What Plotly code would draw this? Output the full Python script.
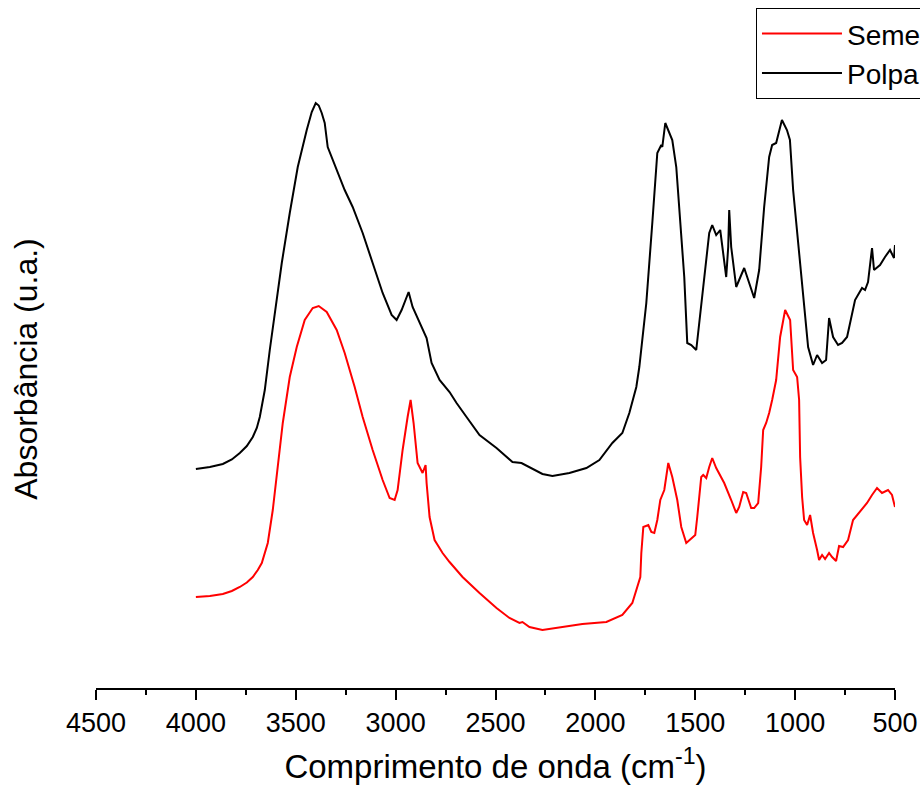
import plotly.graph_objects as go

# Polpa (black) spectrum
polpa_wn = [4000, 3930, 3865, 3820, 3780, 3745, 3715, 3695, 3680, 3655, 3630, 3595, 3570, 3530,
            3490, 3445, 3420, 3400, 3385, 3370, 3355, 3340, 3315, 3255, 3215, 3165, 3115, 3065,
            3020, 2995, 2970, 2935, 2915, 2880, 2845, 2820, 2780, 2730, 2695, 2645, 2580, 2495,
            2415, 2370, 2330, 2265, 2215, 2130, 2045, 1980, 1915, 1865, 1830, 1795, 1780, 1745,
            1715, 1690, 1670, 1665, 1650, 1630, 1615, 1595, 1580, 1555, 1540, 1520, 1495, 1480,
            1455, 1430, 1415, 1395, 1375, 1360, 1345, 1335, 1330, 1320, 1295, 1255, 1230, 1205,
            1180, 1155, 1130, 1115, 1095, 1066, 1041, 1026, 1010, 985, 960, 935, 910, 890, 865,
            845, 830, 810, 785, 765, 740, 700, 665, 650, 635, 615, 605, 575, 550, 525, 505, 500]
polpa_abs = [0.438, 0.442, 0.448, 0.457, 0.470, 0.484, 0.502, 0.520, 0.542, 0.596, 0.676, 0.782,
             0.850, 0.950, 1.042, 1.116, 1.152, 1.170, 1.165, 1.150, 1.130, 1.082, 1.056, 0.996,
             0.962, 0.910, 0.850, 0.790, 0.746, 0.736, 0.756, 0.792, 0.762, 0.730, 0.700, 0.650,
             0.616, 0.592, 0.570, 0.542, 0.506, 0.480, 0.452, 0.450, 0.442, 0.428, 0.424, 0.430,
             0.440, 0.456, 0.490, 0.510, 0.550, 0.602, 0.642, 0.770, 0.930, 1.070, 1.086, 1.082,
             1.130, 1.112, 1.096, 1.042, 0.956, 0.822, 0.690, 0.686, 0.676, 0.730, 0.822, 0.910,
             0.926, 0.906, 0.916, 0.870, 0.822, 0.882, 0.956, 0.882, 0.802, 0.840, 0.810, 0.780,
             0.836, 0.962, 1.062, 1.086, 1.090, 1.136, 1.116, 1.096, 0.996, 0.896, 0.782, 0.682,
             0.646, 0.666, 0.650, 0.656, 0.740, 0.702, 0.686, 0.690, 0.702, 0.776, 0.800, 0.796,
             0.812, 0.880, 0.836, 0.846, 0.862, 0.876, 0.860, 0.886]

# Semente (red) spectrum
semente_wn = [4000, 3930, 3865, 3820, 3780, 3745, 3715, 3690, 3670, 3640, 3615, 3590, 3565, 3530,
              3495, 3455, 3415, 3385, 3345, 3295, 3255, 3205, 3165, 3115, 3065, 3030, 3005, 2990,
              2965, 2940, 2925, 2910, 2890, 2865, 2850, 2845, 2830, 2805, 2765, 2730, 2665, 2580,
              2495, 2430, 2380, 2365, 2330, 2265, 2165, 2065, 1945, 1865, 1815, 1790, 1775, 1770,
              1760, 1735, 1720, 1705, 1690, 1675, 1655, 1635, 1615, 1590, 1570, 1545, 1520, 1500,
              1490, 1470, 1460, 1445, 1430, 1415, 1395, 1385, 1355, 1320, 1295, 1280, 1260, 1245,
              1220, 1205, 1185, 1170, 1160, 1145, 1130, 1115, 1095, 1075, 1050, 1025, 1010, 990,
              980, 975, 965, 955, 940, 925, 910, 890, 880, 865, 850, 830, 815, 795, 780, 760, 735,
              710, 675, 640, 615, 590, 565, 535, 515, 500]
semente_abs = [0.182, 0.184, 0.188, 0.194, 0.202, 0.211, 0.222, 0.236, 0.250, 0.290, 0.356, 0.450,
               0.530, 0.622, 0.682, 0.736, 0.760, 0.764, 0.752, 0.716, 0.670, 0.602, 0.542, 0.476,
               0.416, 0.380, 0.376, 0.396, 0.476, 0.542, 0.576, 0.530, 0.450, 0.430, 0.446, 0.410,
               0.342, 0.296, 0.270, 0.252, 0.222, 0.190, 0.160, 0.140, 0.130, 0.132, 0.122, 0.116,
               0.122, 0.128, 0.132, 0.146, 0.170, 0.202, 0.222, 0.270, 0.322, 0.326, 0.312, 0.310,
               0.336, 0.376, 0.396, 0.450, 0.422, 0.376, 0.322, 0.290, 0.300, 0.306, 0.342, 0.422,
               0.426, 0.420, 0.442, 0.460, 0.440, 0.432, 0.410, 0.376, 0.350, 0.362, 0.392, 0.390,
               0.360, 0.360, 0.370, 0.442, 0.516, 0.530, 0.550, 0.576, 0.616, 0.702, 0.756, 0.736,
               0.636, 0.622, 0.576, 0.462, 0.382, 0.336, 0.326, 0.346, 0.310, 0.276, 0.256, 0.266,
               0.258, 0.270, 0.262, 0.254, 0.284, 0.282, 0.296, 0.336, 0.352, 0.370, 0.386, 0.400,
               0.390, 0.396, 0.386, 0.362]

x_ticks = [4500, 4000, 3500, 3000, 2500, 2000, 1500, 1000, 500]

FONT = "Arial, Liberation Sans, sans-serif"

fig = go.Figure()
fig.add_trace(go.Scatter(x=semente_wn, y=semente_abs, mode="lines", name="Semente",
                         line=dict(color="#FF0000", width=2)))
fig.add_trace(go.Scatter(x=polpa_wn, y=polpa_abs, mode="lines", name="Polpa",
                         line=dict(color="#000000", width=2)))

fig.update_layout(
    width=1000, height=785,
    margin=dict(l=96, r=105, t=50, b=97, autoexpand=False),
    paper_bgcolor="white", plot_bgcolor="white",
    font=dict(family=FONT, color="black"),
    showlegend=True,
    legend=dict(x=0.826, y=1.066, xanchor="left", yanchor="top",
                bordercolor="black", borderwidth=1, bgcolor="white",
                font=dict(size=28, family=FONT), itemwidth=80, tracegroupgap=0),
    xaxis=dict(range=[4500, 500], tickvals=x_ticks, ticktext=[str(v) for v in x_ticks],
               showgrid=False, zeroline=False, showline=True, linecolor="black", linewidth=1.5,
               ticks="outside", ticklen=10, tickwidth=1.5, tickcolor="black",
               tickfont=dict(size=27, family=FONT),
               minor=dict(dtick=250, tick0=500, ticks="outside", ticklen=5, tickwidth=1.5,
                          tickcolor="black", showgrid=False),
               title=dict(text="Comprimento de onda (cm<sup>-1</sup>)",
                          font=dict(size=33, family=FONT), standoff=18)),
    yaxis=dict(range=[0, 1.276], showgrid=False, zeroline=False, showline=False,
               showticklabels=False, ticks="",
               title=dict(text="Absorbância (u.a.)", font=dict(size=32, family=FONT),
                          standoff=47)),
)

fig.write_html("out.html",
               config={"displayModeBar": False},
               post_script="document.documentElement.style.overflow='hidden';"
                           "document.body.style.overflow='hidden';"
                           "document.body.style.margin='0';")
